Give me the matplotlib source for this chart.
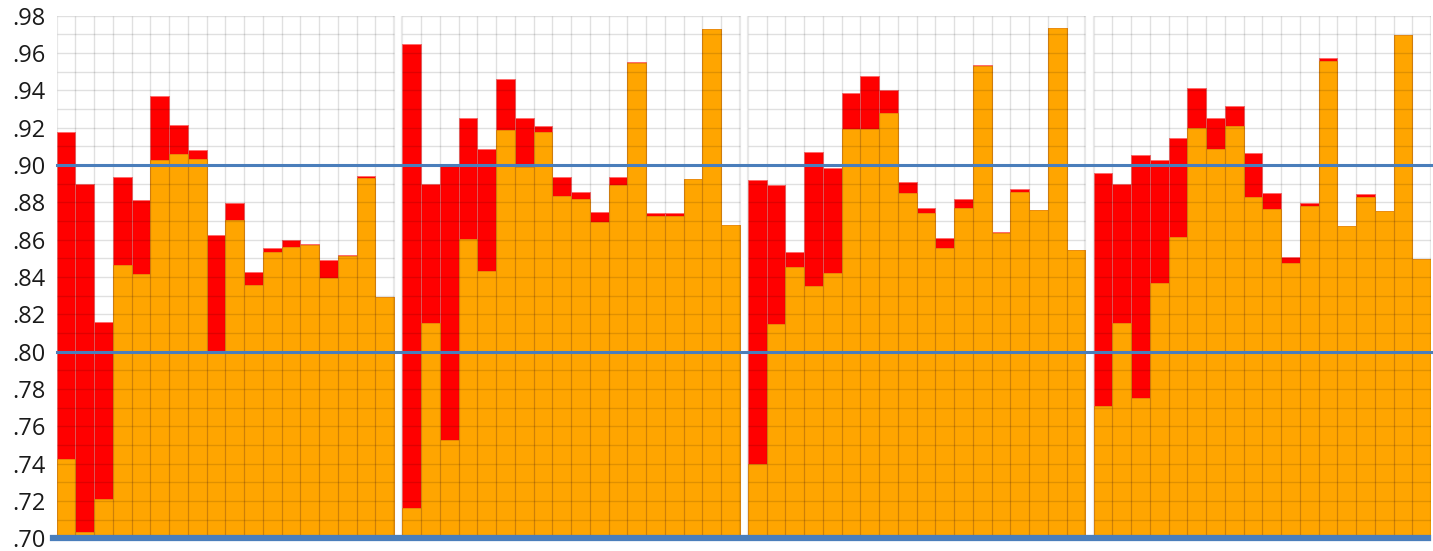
import numpy as np
import matplotlib
matplotlib.use("Agg")
import matplotlib.pyplot as plt

# upper (red) and lower (orange) values per panel, 18 bars each
red1 = [0.9175, 0.8898, 0.8157, 0.8936, 0.8813, 0.9371, 0.9216, 0.9079, 0.8623,
        0.8798, 0.8429, 0.8557, 0.8600, 0.8577, 0.8489, 0.8518, 0.8941, 0.8293]
orange1 = [0.7425, 0.7033, 0.7213, 0.8463, 0.8416, 0.9025, 0.9061, 0.9030, 0.8004,
           0.8705, 0.8355, 0.8532, 0.8559, 0.8571, 0.8393, 0.8514, 0.8932, 0.8293]

red2 = [0.9648, 0.8898, 0.8999, 0.9250, 0.9084, 0.9462, 0.9252, 0.9209, 0.8934,
        0.8855, 0.8748, 0.8934, 0.9552, 0.8741, 0.8743, 0.8927, 0.9730, 0.8677]
orange2 = [0.7163, 0.8152, 0.7527, 0.8602, 0.8432, 0.9187, 0.8991, 0.9175, 0.8832,
           0.8820, 0.8693, 0.8893, 0.9548, 0.8729, 0.8725, 0.8925, 0.9728, 0.8677]

red3 = [0.8920, 0.8891, 0.8536, 0.9070, 0.8986, 0.9387, 0.9477, 0.9403, 0.8907,
        0.8770, 0.8611, 0.8816, 0.9534, 0.8641, 0.8873, 0.8759, 0.9734, 0.8545]
orange3 = [0.7398, 0.8148, 0.8455, 0.8352, 0.8423, 0.9191, 0.9191, 0.9279, 0.8848,
           0.8745, 0.8557, 0.8771, 0.9530, 0.8637, 0.8855, 0.8757, 0.9732, 0.8545]

red4 = [0.8957, 0.8897, 0.9055, 0.9028, 0.9143, 0.9414, 0.9252, 0.9318, 0.9063,
        0.8848, 0.8506, 0.8795, 0.9575, 0.8673, 0.8843, 0.8754, 0.9698, 0.8498]
orange4 = [0.7707, 0.8152, 0.7754, 0.8370, 0.8614, 0.9196, 0.9087, 0.9207, 0.8830,
           0.8766, 0.8475, 0.8782, 0.9559, 0.8671, 0.8827, 0.8752, 0.9698, 0.8498]

panels = [(red1, orange1), (red2, orange2), (red3, orange3), (red4, orange4)]
ref_lines = [0.80, 0.90]
y_min, y_max = 0.70, 0.98

plt.rcParams["font.family"] = ["Open Sans", "DejaVu Sans"]

GAP = 0.44
n = len(red1)
BLUE = "#4a7ebb"

fig = plt.figure(figsize=(14.33, 5.51), dpi=100)
ax = fig.add_axes([0.0396, 0.0229, 0.9590, 0.9488])

for p, (red, orange) in enumerate(panels):
    x0 = p * (n + GAP)
    x = x0 + np.arange(n)
    base = y_min
    ax.bar(x, np.array(red) - base, bottom=base, width=1, align="edge",
           color="#ff0000", edgecolor="#ff6a6a", linewidth=0.6, zorder=2)
    ax.bar(x, np.array(orange) - base, bottom=base, width=1, align="edge",
           color="#ffa500", edgecolor="#e8900a", linewidth=0.6, zorder=2)
    # panel grid drawn over the bars
    ax.hlines(np.arange(y_min, y_max + 0.001, 0.01), x0, x0 + n,
              color="k", alpha=0.12, linewidth=1, zorder=3)
    ax.vlines(x0 + np.arange(1, n), y_min, y_max,
              color="k", alpha=0.12, linewidth=1, zorder=3)
    ax.vlines([x0, x0 + n], y_min, y_max, color="k", alpha=0.09,
              linewidth=1.6, zorder=3)

for v in ref_lines:
    ax.axhline(v, xmin=0, xmax=1.002, color=BLUE, linewidth=2.2, zorder=4,
               clip_on=False)
ax.axhline(y_min, xmin=-0.003, xmax=0.998, color=BLUE, linewidth=4.5,
           zorder=5, clip_on=False)

ax.set_xlim(0, 3 * (n + GAP) + n)
ax.set_ylim(y_min, y_max)
ticks = np.arange(0.70, 0.981, 0.02)
ax.set_yticks(ticks)
ax.set_yticklabels(["." + f"{int(round(t * 100)):02d}" for t in ticks],
                   fontsize=17, color="#1a1a1a")
ax.tick_params(axis="y", length=0, pad=8)
ax.set_xticks([])
for s in ax.spines.values():
    s.set_visible(False)

fig.savefig("out.png", dpi=100)
